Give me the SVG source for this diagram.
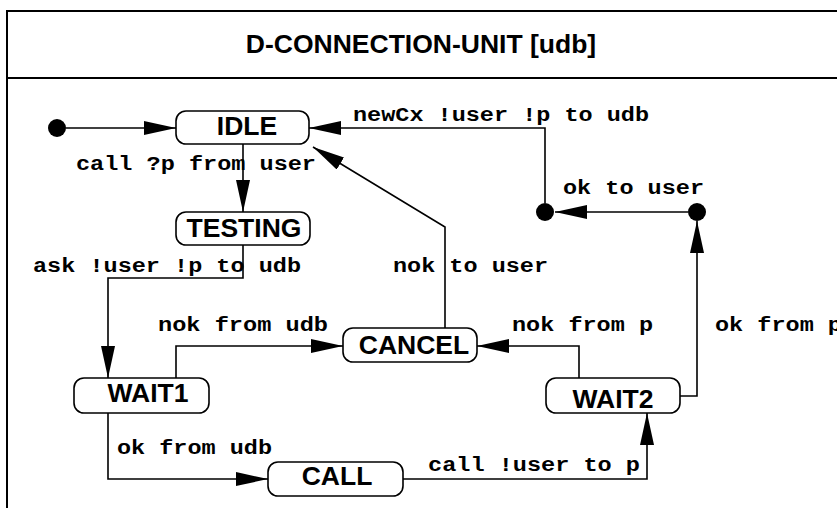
<svg xmlns="http://www.w3.org/2000/svg" width="837" height="508" viewBox="0 0 837 508">
<style>
.frame{fill:none;stroke:#000;stroke-width:2}
.node rect{fill:#fff;stroke:#000;stroke-width:1.6}
.node text{font-family:"Liberation Sans",Arial,sans-serif;font-weight:bold;font-size:26.5px;text-anchor:middle;fill:#000}
.title{font-family:"Liberation Sans",Arial,sans-serif;font-weight:bold;font-size:26.5px;text-anchor:middle;fill:#000}
.edge{fill:none;stroke:#000;stroke-width:1.6}
.lbl{font-family:"Liberation Mono","Courier New",monospace;font-weight:bold;font-size:20px;fill:#000}
.dot{fill:#000}
</style>
<defs>
<marker id="ah" markerUnits="userSpaceOnUse" markerWidth="33" markerHeight="15" refX="32" refY="7" orient="auto">
<path d="M0,0 L32,7 L0,14 z" fill="#000"/>
</marker>
</defs>
<rect width="837" height="508" fill="#fff"/>
<g id="frame">
<path class="frame" d="M850 11 H7 V520"/>
<path class="frame" d="M7 78 H850"/>
<text class="title" x="421" y="53">D-CONNECTION-UNIT [udb]</text>
</g>
<g id="connectors">
<circle class="dot" cx="57" cy="128" r="9"/>
<circle class="dot" cx="545" cy="212" r="9"/>
<circle class="dot" cx="697" cy="212" r="9"/>
<path class="edge" marker-end="url(#ah)" d="M66 128 H176"/>
<path class="edge" marker-end="url(#ah)" d="M243 144 V212"/>
<path class="edge" marker-end="url(#ah)" d="M243 245 V278 H108 V378"/>
<path class="edge" marker-end="url(#ah)" d="M176 378 V346 H343"/>
<path class="edge" marker-end="url(#ah)" d="M108 413 V479 H268"/>
<path class="edge" marker-end="url(#ah)" d="M403 479 H647 V413"/>
<path class="edge" marker-end="url(#ah)" d="M579 378 V346 H477"/>
<path class="edge" marker-end="url(#ah)" d="M680 396 H697 V221"/>
<path class="edge" marker-end="url(#ah)" d="M688 212 H555"/>
<path class="edge" marker-end="url(#ah)" d="M545 203 V128 H309"/>
<path class="edge" marker-end="url(#ah)" d="M445 328 V227 L313 147"/>
<text class="lbl" x="353" y="121" textLength="296" lengthAdjust="spacingAndGlyphs">newCx !user !p to udb</text>
<text class="lbl" x="76" y="170" textLength="240" lengthAdjust="spacingAndGlyphs">call ?p from user</text>
<text class="lbl" x="33" y="272" textLength="268" lengthAdjust="spacingAndGlyphs">ask !user !p to udb</text>
<text class="lbl" x="393" y="272" textLength="155" lengthAdjust="spacingAndGlyphs">nok to user</text>
<text class="lbl" x="563" y="194" textLength="141" lengthAdjust="spacingAndGlyphs">ok to user</text>
<text class="lbl" x="158" y="331" textLength="170" lengthAdjust="spacingAndGlyphs">nok from udb</text>
<text class="lbl" x="512" y="331" textLength="141" lengthAdjust="spacingAndGlyphs">nok from p</text>
<text class="lbl" x="715" y="331" textLength="127" lengthAdjust="spacingAndGlyphs">ok from p</text>
<text class="lbl" x="117" y="454" textLength="155" lengthAdjust="spacingAndGlyphs">ok from udb</text>
<text class="lbl" x="428" y="471" textLength="212" lengthAdjust="spacingAndGlyphs">call !user to p</text>
</g>
<g id="IDLE" class="node"><rect x="176" y="111" width="133" height="33" rx="10"/><text x="247" y="135">IDLE</text></g>
<g id="TESTING" class="node"><rect x="176" y="212" width="134" height="33" rx="10"/><text x="244" y="237">TESTING</text></g>
<g id="WAIT1" class="node"><rect x="74" y="378" width="135" height="35" rx="10"/><text x="148" y="402">WAIT1</text></g>
<g id="CANCEL" class="node"><rect x="343" y="328" width="134" height="34" rx="10"/><text x="414" y="354">CANCEL</text></g>
<g id="WAIT2" class="node"><rect x="546" y="378" width="134" height="35" rx="10"/><text x="613" y="408">WAIT2</text></g>
<g id="CALL" class="node"><rect x="268" y="462" width="135" height="34" rx="10"/><text x="337" y="485">CALL</text></g>
</svg>
